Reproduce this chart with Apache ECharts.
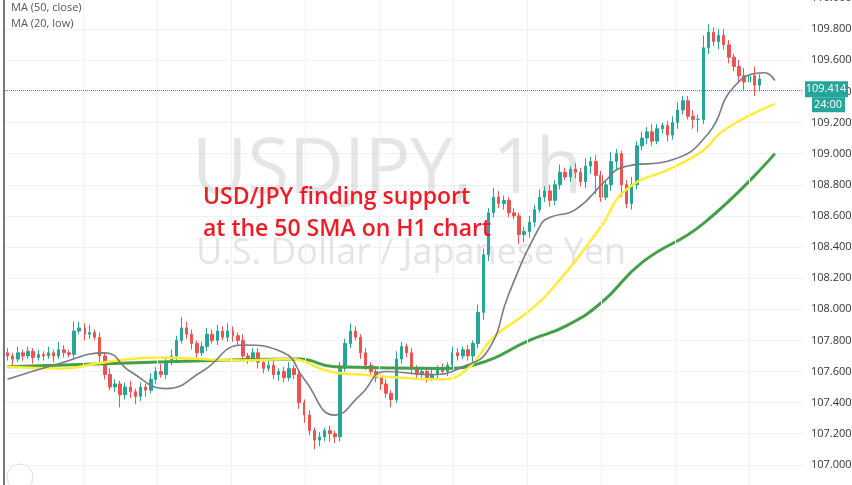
<!DOCTYPE html>
<html><head><meta charset="utf-8">
<script src="https://cdn.jsdelivr.net/npm/echarts@6/dist/echarts.min.js"></script>
<style>html,body{margin:0;padding:0;background:#fff}#c{width:852px;height:485px}</style>
</head><body><div id="c"></div>
<script>
const closes=[107.70,107.68,107.72,107.70,107.73,107.69,107.71,107.70,107.72,107.70,107.74,107.72,107.71,
107.86,107.88,107.84,107.85,107.82,107.70,107.58,107.50,107.52,107.45,107.50,107.47,107.44,107.50,107.48,107.55,107.60,
107.58,107.66,107.70,107.80,107.88,107.84,107.78,107.72,107.76,107.84,107.80,107.86,107.82,107.86,107.83,107.80,107.70,
107.68,107.72,107.66,107.62,107.64,107.58,107.60,107.56,107.62,107.58,107.40,107.32,107.22,107.16,107.18,107.22,107.20,
107.18,107.62,107.78,107.86,107.82,107.72,107.64,107.60,107.56,107.52,107.46,107.42,107.68,107.76,107.72,107.62,107.58,
107.60,107.56,107.58,107.62,107.60,107.64,107.72,107.70,107.74,107.70,107.78,107.98,108.35,108.62,108.72,108.68,108.70,
108.62,108.60,108.48,108.50,108.56,108.64,108.72,108.76,108.70,108.80,108.88,108.85,108.90,108.88,108.82,108.92,108.95,
108.86,108.72,108.80,108.95,109.00,108.80,108.68,108.80,109.05,109.10,109.14,109.08,109.16,109.18,109.12,109.20,109.28,
109.34,109.24,109.22,109.22,109.68,109.78,109.72,109.76,109.70,109.62,109.56,109.50,109.46,109.50,109.44,109.48,109.40,
109.34,109.414];
const firstOpen=107.72;
const wickUp=[3,2,4,2,3,2,3,2,4,2,5,3,2,6,4,3,5,2,3,2,4,3,2,3,4,2,3,2,4,3,5,3,4,3,7,4,3,2,3,4,3,4,3,5,3,2,4,2,3,3,2,4,
3,2,3,4,2,3,2,3,2,3,2,3,2,4,3,5,3,2,3,2,3,2,3,2,5,3,2,3,2,3,2,3,2,3,2,4,3,2,3,2,5,4,3,6,4,3,2,3,2,3,4,3,5,3,4,3,5,3,2,
4,3,5,3,4,3,3,6,3,2,3,5,3,4,3,5,3,2,3,4,5,3,3,4,3,8,5,3,4,4,3,2,4,5,4,6,3,2,3];
const wickDn=[3,4,2,3,2,4,2,3,2,4,2,3,2,3,2,4,3,2,4,3,2,3,8,3,4,5,3,4,2,3,2,3,2,3,2,3,4,3,2,3,2,3,2,3,4,3,2,3,2,4,3,2,
3,4,3,2,3,4,5,3,6,4,3,5,4,3,2,3,2,4,3,2,3,4,3,5,2,3,3,4,3,2,3,2,3,2,3,2,3,2,3,4,3,5,4,3,3,4,3,2,6,5,4,3,2,3,4,3,3,2,3,
4,3,4,5,12,3,2,4,6,8,3,4,3,3,4,3,2,3,4,3,4,3,2,6,8,3,4,3,5,3,4,3,4,5,3,7,4];
const lastPrice=109.414;
const maxCats=156;
// moving averages: [candle index, value]
const ma20low=[[0,107.55],[10,107.65],[19,107.72],[24,107.60],[31,107.49],[38,107.60],[46,107.77],[54,107.72],[58,107.55],
[64,107.32],[69,107.45],[74,107.60],[83,107.58],[89,107.63],[94,107.74],[98,108.10],[104,108.53],[106,108.59],[111,108.64],
[117,108.83],[120,108.91],[130,108.96],[137,109.13],[142,109.43],[148,109.52],[150,109.47]];
const ma50close=[[0,107.63],[11,107.62],[19,107.66],[30,107.69],[46,107.67],[55,107.68],[63,107.60],[69,107.58],[77,107.56],
[85,107.55],[90,107.62],[95,107.82],[102,107.99],[108,108.19],[116,108.53],[121,108.77],[130,108.91],[136,109.02],[140,109.15],[150,109.32]];
const ma100=[[0,107.63],[19,107.65],[40,107.67],[57,107.68],[64,107.63],[85,107.62],[92,107.65],[102,107.80],[109,107.89],
[116,108.04],[124,108.30],[136,108.55],[150,109.00]];
const titleLines=["USD/JPY finding support","at the 50 SMA on H1 chart"];
const legendLines=["MA (50, close)","MA (20, low)"];

const cats=[],ohlc=[];
for(let i=0;i<maxCats;i++){cats.push(String(i));
 if(i<closes.length){const o=i===0?firstOpen:closes[i-1],c=closes[i];
  ohlc.push([o,c,Math.min(o,c)-wickDn[i]/100,Math.max(o,c)+wickUp[i]/100]);} else ohlc.push('-');}
const up='#26a69a',dn='#ef5350';
const ch=echarts.init(document.getElementById('c'));
ch.setOption({animation:false,
 grid:{left:5,width:798,top:-2,height:498,outerBoundsMode:'none',containLabel:false},
 xAxis:[{type:'category',data:cats,boundaryGap:true,show:false},
  {type:'value',min:-1.054,max:9.73,show:false}],
 yAxis:{type:'value',position:'right',min:106.8,max:110.0,interval:0.2,
  axisLine:{show:true,lineStyle:{color:'#888'}},axisTick:{show:false},
  axisLabel:{color:'#333',fontSize:11,fontFamily:'Open Sans',margin:8,formatter:v=>v.toFixed(3)},
  splitLine:{lineStyle:{color:'#eef1f5'}}},
 series:[
  {type:'line',xAxisIndex:1,data:[],silent:true,markLine:{symbol:'none',silent:true,label:{show:false},
    lineStyle:{color:'#eef1f5',type:'solid',width:1},data:[0,1,2,3,4,5,6,7,8,9].map(v=>({xAxis:v}))}},
  {type:'candlestick',data:ohlc,barWidth:3,
   itemStyle:{color:up,color0:dn,borderColor:up,borderColor0:dn,borderWidth:1},
   markLine:{symbol:'none',silent:true,label:{show:false},lineStyle:{color:'#26a69a',type:'dotted',width:1},data:[{yAxis:lastPrice}]}},
  {type:'line',data:ma100,smooth:true,showSymbol:false,lineStyle:{color:'#43a047',width:3},z:3},
  {type:'line',data:ma50close,smooth:true,showSymbol:false,lineStyle:{color:'#ffeb3b',width:2.5},z:4},
  {type:'line',data:ma20low,smooth:true,showSymbol:false,lineStyle:{color:'#787b86',width:1.6},z:5}
 ]});
const py=ch.convertToPixel({yAxisIndex:0},lastPrice);
ch.setOption({graphic:[
 {type:'text',left:192,top:133,z:0,style:{text:'USDJPY, 1h',fontSize:76,fontFamily:'Open Sans',fill:'rgba(190,190,190,0.4)'}},
 {type:'text',left:196,top:236,z:0,style:{text:'U.S. Dollar / Japanese Yen',fontSize:36,fontFamily:'Open Sans',fill:'rgba(190,190,190,0.4)'}},
 {type:'text',left:203,top:181,z:100,style:{text:titleLines.join('\n'),lineHeight:32,fontSize:23,fontWeight:600,fontFamily:'Open Sans',fill:'#ee1c25'}},
 {type:'text',left:11,top:0,z:100,style:{text:legendLines.join('\n'),lineHeight:16,fontSize:11,fontFamily:'Open Sans',fill:'#555'}},
 {type:'line',shape:{x1:4,y1:0,x2:4,y2:485},style:{stroke:'#777',lineWidth:2}},
 {type:'rect',shape:{x:805,y:py-8,width:43,height:16},style:{fill:'#26a69a'},z:100},
 {type:'text',x:826,y:py,z:101,style:{text:lastPrice.toFixed(3),align:'center',verticalAlign:'middle',fontSize:11,fontFamily:'Open Sans',fill:'#fff'}},
 {type:'rect',shape:{x:812,y:py+8,width:33,height:15},style:{fill:'#26a69a'},z:100},
 {type:'text',x:828,y:py+15.5,z:101,style:{text:'24:00',align:'center',verticalAlign:'middle',fontSize:11,fontFamily:'Open Sans',fill:'#fff'}},
 {type:'circle',shape:{cx:20,cy:477,r:13},style:{fill:'#fff',stroke:'#ddd'}}
]});
</script></body></html>
